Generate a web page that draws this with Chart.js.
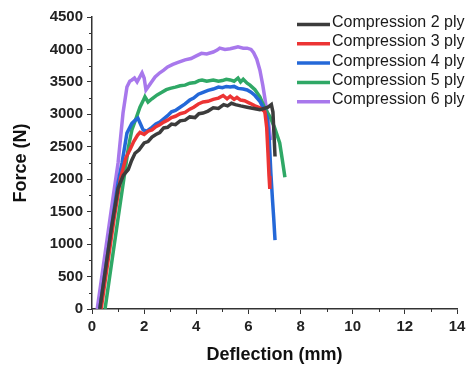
<!DOCTYPE html>
<html>
<head>
<meta charset="utf-8">
<script src="https://cdn.jsdelivr.net/npm/chart.js@4.4.1/dist/chart.umd.min.js"></script>
<style>
  html, body { margin: 0; padding: 0; background: #fff; }
  #wrap { width: 472px; height: 366px; }
</style>
</head>
<body>
<div id="wrap"><canvas id="forceChart" width="472" height="366"></canvas></div>
<script>
// series (deflection mm, force N)
const labels = ['Compression 2 ply', 'Compression 3 ply', 'Compression 4 ply', 'Compression 5 ply', 'Compression 6 ply'];
const colors = ['#3c3c3c', '#ec3434', '#2468d8', '#2fa866', '#a878ec'];

const ply2X = [0.30, 0.50, 0.75, 1.00, 1.20, 1.39, 1.52, 1.65, 1.80, 2.00, 2.15, 2.30, 2.45, 2.60, 2.75, 2.90, 3.05, 3.20, 3.38, 3.57, 3.75, 3.95, 4.10, 4.26, 4.45, 4.65, 4.85, 5.05, 5.20, 5.35, 5.50, 5.70, 5.95, 6.20, 6.44, 6.60, 6.75, 6.88, 6.94, 6.98, 7.02];
const ply2Y = [0, 560, 1260, 1860, 2060, 2150, 2290, 2400, 2450, 2560, 2580, 2650, 2690, 2720, 2790, 2800, 2850, 2840, 2900, 2910, 2960, 2950, 3010, 3020, 3050, 3100, 3090, 3150, 3130, 3170, 3150, 3130, 3110, 3090, 3070, 3090, 3110, 3150, 3035, 2700, 2350];

const ply3X = [0.35, 0.60, 0.85, 1.10, 1.30, 1.45, 1.60, 1.75, 1.84, 2.00, 2.15, 2.30, 2.45, 2.60, 2.75, 2.90, 3.05, 3.20, 3.38, 3.57, 3.75, 3.90, 4.08, 4.26, 4.45, 4.65, 4.85, 5.03, 5.18, 5.30, 5.45, 5.56, 5.70, 5.85, 6.06, 6.25, 6.44, 6.63, 6.70, 6.75, 6.79, 6.82];
const ply3Y = [0, 700, 1400, 2020, 2330, 2450, 2580, 2680, 2720, 2690, 2740, 2760, 2810, 2840, 2880, 2910, 2950, 2970, 3010, 3030, 3080, 3110, 3160, 3190, 3200, 3230, 3250, 3290, 3240, 3280, 3230, 3260, 3220, 3210, 3170, 3130, 3100, 3040, 2800, 2400, 2050, 1850];

const ply4X = [0.30, 0.55, 0.80, 1.00, 1.15, 1.34, 1.53, 1.66, 1.76, 1.86, 1.96, 2.10, 2.30, 2.45, 2.60, 2.75, 2.90, 3.05, 3.20, 3.38, 3.57, 3.75, 3.90, 4.08, 4.26, 4.45, 4.65, 4.85, 5.00, 5.15, 5.30, 5.45, 5.60, 5.80, 5.95, 6.10, 6.25, 6.44, 6.60, 6.72, 6.80, 6.86, 6.92, 6.97, 7.02];
const ply4Y = [0, 700, 1400, 1950, 2250, 2710, 2860, 2910, 2940, 2850, 2760, 2740, 2800, 2850, 2880, 2930, 2980, 3040, 3060, 3110, 3160, 3220, 3250, 3310, 3340, 3370, 3390, 3420, 3410, 3430, 3420, 3430, 3400, 3390, 3375, 3340, 3290, 3200, 3080, 2950, 2600, 2100, 1700, 1400, 1060];

const ply5X = [0.50, 0.75, 1.00, 1.27, 1.40, 1.53, 1.70, 1.84, 1.95, 2.03, 2.15, 2.30, 2.50, 2.68, 2.85, 3.00, 3.20, 3.38, 3.57, 3.75, 3.95, 4.10, 4.22, 4.40, 4.65, 4.85, 5.00, 5.15, 5.30, 5.45, 5.60, 5.70, 5.80, 5.95, 6.06, 6.25, 6.44, 6.60, 6.83, 7.00, 7.20, 7.30, 7.40];
const ply5Y = [0, 700, 1400, 2140, 2500, 2760, 2950, 3110, 3200, 3270, 3190, 3240, 3300, 3340, 3380, 3400, 3420, 3440, 3450, 3480, 3490, 3520, 3530, 3510, 3530, 3510, 3520, 3540, 3530, 3510, 3560, 3500, 3540, 3480, 3450, 3380, 3270, 3120, 2960, 2800, 2560, 2300, 2030];

const ply6X = [0.20, 0.50, 0.80, 1.00, 1.19, 1.34, 1.45, 1.53, 1.63, 1.73, 1.84, 1.92, 2.00, 2.07, 2.15, 2.25, 2.42, 2.60, 2.75, 2.90, 3.10, 3.30, 3.57, 3.80, 4.00, 4.20, 4.40, 4.65, 4.80, 4.90, 5.10, 5.30, 5.50, 5.60, 5.80, 5.95, 6.10, 6.20, 6.32, 6.44, 6.55, 6.63, 6.70, 6.78, 6.85];
const ply6Y = [0, 850, 1700, 2250, 3020, 3420, 3510, 3530, 3560, 3500, 3580, 3640, 3560, 3375, 3420, 3480, 3575, 3640, 3680, 3730, 3770, 3800, 3840, 3860, 3900, 3940, 3930, 3960, 3990, 4020, 4000, 4010, 4030, 4040, 4020, 4020, 4000, 3950, 3850, 3680, 3450, 3250, 3060, 2850, 2600];

const xTicks = [0, 2, 4, 6, 8, 10, 12, 14];
const yTicks = [0, 500, 1000, 1500, 2000, 2500, 3000, 3500, 4000, 4500];

function toPoints(xs, ys) {
    return xs.map((x, i) => ({ x: x, y: ys[i] }));
}

const seriesX = [ply2X, ply3X, ply4X, ply5X, ply6X];
const seriesY = [ply2Y, ply3Y, ply4Y, ply5Y, ply6Y];

const datasets = labels.map((label, i) => ({
    label: label,
    data: toPoints(seriesX[i], seriesY[i]),
    borderColor: colors[i],
    backgroundColor: colors[i],
    borderWidth: 3.5,
    pointRadius: 0,
    tension: 0,
    fill: false
}));

// minor ticks between the labelled ones
const minorTicks = {
    id: 'minorTicks',
    afterDraw(chart) {
        const c = chart.ctx;
        const xs = chart.scales.x;
        const ys = chart.scales.y;
        c.save();
        c.strokeStyle = '#333';
        c.lineWidth = 1;
        for (let v = 1; v < 14; v += 2) {
            const px = Math.round(xs.getPixelForValue(v)) + 0.5;
            c.beginPath();
            c.moveTo(px, ys.bottom);
            c.lineTo(px, ys.bottom + 3);
            c.stroke();
        }
        for (let v = 250; v < 4500; v += 500) {
            const py = Math.round(ys.getPixelForValue(v)) + 0.5;
            c.beginPath();
            c.moveTo(xs.left, py);
            c.lineTo(xs.left - 3, py);
            c.stroke();
        }
        c.restore();
    }
};

// legend drawn inside the plot, top right
const lineLegend = {
    id: 'lineLegend',
    afterDraw(chart) {
        const c = chart.ctx;
        c.save();
        c.font = '16px "Liberation Sans", Arial, sans-serif';
        c.textBaseline = 'middle';
        c.fillStyle = '#1a1a1a';
        chart.data.datasets.forEach((ds, i) => {
            const y = 22.5 + i * 19.3;
            c.strokeStyle = ds.borderColor;
            c.lineWidth = 3.5;
            c.beginPath();
            c.moveTo(297, y + 2);
            c.lineTo(330, y + 2);
            c.stroke();
            c.fillText(ds.label, 332, y);
        });
        c.restore();
    }
};

const tickFont = { family: '"Liberation Sans", Arial, sans-serif', size: 15, weight: 'bold' };
const titleFont = { family: '"Liberation Sans", Arial, sans-serif', size: 18, weight: 'bold' };

const forceChart = new Chart(document.getElementById('forceChart').getContext('2d'), {
    type: 'line',
    data: { datasets: datasets },
    options: {
        responsive: false,
        animation: false,
        layout: { padding: { left: 0, top: 17, right: 15, bottom: 0 } },
        scales: {
            x: {
                type: 'linear',
                min: 0,
                max: 14,
                afterBuildTicks: (s) => { s.ticks = xTicks.map(v => ({ value: v })); },
                afterFit: (s) => { s.height = 57; },
                border: { color: '#333', width: 1.5 },
                grid: { drawOnChartArea: false, drawTicks: true, tickLength: 5, tickColor: '#333' },
                ticks: { font: tickFont, color: '#222', padding: 4, callback: (v) => String(v) },
                title: { display: true, text: 'Deflection (mm)', font: titleFont, color: '#111', padding: { top: 0, bottom: 0 } }
            },
            y: {
                type: 'linear',
                min: 0,
                max: 4500,
                afterBuildTicks: (s) => { s.ticks = yTicks.map(v => ({ value: v })); },
                afterFit: (s) => { s.width = 92; },
                border: { color: '#333', width: 1.5 },
                grid: { drawOnChartArea: false, drawTicks: true, tickLength: 5, tickColor: '#333' },
                ticks: { font: tickFont, color: '#222', padding: 4, callback: (v) => String(v) },
                title: { display: true, text: 'Force (N)', font: titleFont, color: '#111', padding: { top: 10, bottom: 0 } }
            }
        },
        plugins: {
            legend: { display: false },
            tooltip: { enabled: false }
        }
    },
    plugins: [minorTicks, lineLegend]
});
</script>
</body>
</html>
